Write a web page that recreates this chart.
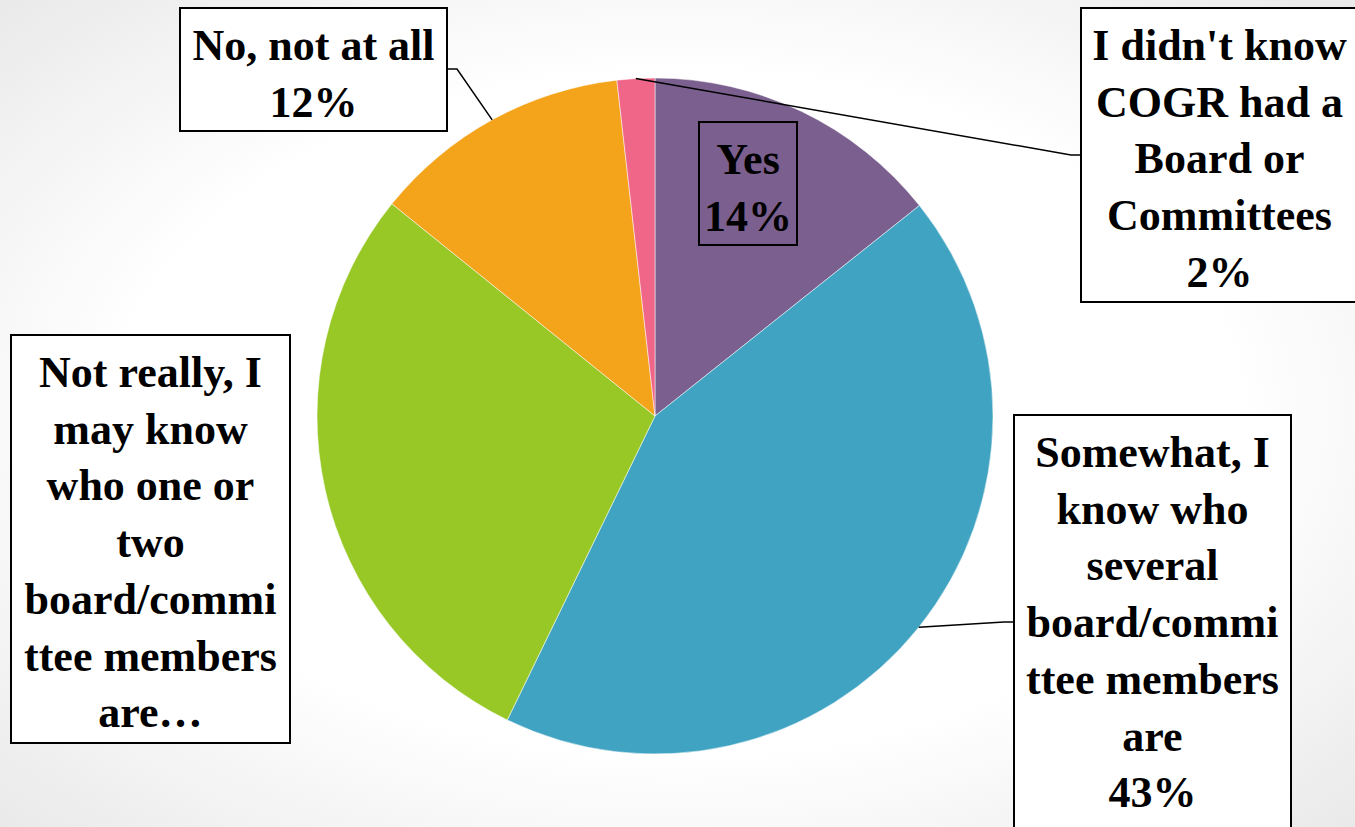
<!DOCTYPE html>
<html>
<head>
<meta charset="utf-8">
<script src="https://cdn.jsdelivr.net/npm/d3@7"></script>
<style>
  html, body { margin: 0; padding: 0; overflow: hidden; }
  body { width: 1355px; height: 827px; }
</style>
</head>
<body>
<div id="chart"></div>
<script>
// answers, clockwise from 12 o'clock
const categories = ['Yes', 'Somewhat', 'Not really', 'No', "Didn't know"]
const values = [14.3, 42.9, 28.6, 12.4, 1.8]
const colors = ['#7B5F8E', '#41A3C2', '#97C826', '#F4A41B', '#EF6688']
const labelLines = [
  ['Yes', '14%'],
  ['Somewhat, I', 'know who', 'several', 'board/commi', 'ttee members', 'are', '43%'],
  ['Not really, I', 'may know', 'who one or', 'two', 'board/commi', 'ttee members', 'are\u2026'],
  ['No, not at all', '12%'],
  ["I didn't know", 'COGR had a', 'Board or', 'Committees', '2%']
]

const width = 1355
const height = 827
const cx = 655
const cy = 416
const radius = 338
const lineH = 56.7

// label boxes: x, y, w, h, leader attach side, fill
const boxes = [
  { x: 699, y: 122, w: 98, h: 123, leader: null, fill: 'none' },
  { x: 1014, y: 415, w: 277, h: 430, leader: 'left', ly: 622, fill: '#fff' },
  { x: 11, y: 335, w: 279, h: 408, leader: null, fill: '#fff' },
  { x: 180, y: 8, w: 267, h: 123, leader: 'right', ly: 69, fill: '#fff' },
  { x: 1081, y: 8, w: 277, h: 294, leader: 'left', ly: 155, fill: '#fff' }
]

const svg = d3
  .select('#chart')
  .append('svg')
  .attr('width', width)
  .attr('height', height)

const defs = svg.append('defs')
const grad = defs
  .append('radialGradient')
  .attr('id', 'bg')
  .attr('cx', '50%')
  .attr('cy', '50%')
  .attr('r', '75%')
grad.append('stop').attr('offset', '0%').attr('stop-color', '#ffffff')
grad.append('stop').attr('offset', '55%').attr('stop-color', '#ffffff')
grad.append('stop').attr('offset', '100%').attr('stop-color', '#e6e6e6')

svg
  .append('rect')
  .attr('width', width)
  .attr('height', height)
  .attr('fill', 'url(#bg)')

const pie = d3
  .pie()
  .sort(null)
  .value(d => d)

const arcs = pie(values)

const arc = d3
  .arc()
  .innerRadius(0)
  .outerRadius(radius)

const g = svg.append('g').attr('transform', `translate(${cx},${cy})`)

g.selectAll('path')
  .data(arcs)
  .join('path')
  .attr('d', arc)
  .attr('fill', (d, i) => colors[i])
  .attr('stroke', '#fff')
  .attr('stroke-width', 0.5)

// leader lines from the slice edge to the label box
arcs.forEach((d, i) => {
  const b = boxes[i]
  if (!b.leader) return
  const mid = (d.startAngle + d.endAngle) / 2
  const px = cx + radius * Math.sin(mid)
  const py = cy - radius * Math.cos(mid)
  const bx = b.leader === 'left' ? b.x : b.x + b.w
  const kx = b.leader === 'left' ? bx - 10 : bx + 10
  svg
    .append('path')
    .attr('d', `M${px},${py}L${kx},${b.ly}L${bx},${b.ly}`)
    .attr('fill', 'none')
    .attr('stroke', '#000')
    .attr('stroke-width', 1.5)
})

const labels = svg
  .selectAll('.label')
  .data(categories)
  .join('g')
  .attr('class', 'label')

labels
  .append('rect')
  .attr('x', (d, i) => boxes[i].x)
  .attr('y', (d, i) => boxes[i].y)
  .attr('width', (d, i) => boxes[i].w)
  .attr('height', (d, i) => boxes[i].h)
  .attr('fill', (d, i) => boxes[i].fill)
  .attr('stroke', '#000')
  .attr('stroke-width', 2)

labels
  .append('text')
  .attr('text-anchor', 'middle')
  .style('font-family', '"Liberation Serif", serif')
  .style('font-weight', 'bold')
  .style('font-size', '44px')
  .attr('fill', '#000')
  .selectAll('tspan')
  .data((d, i) => labelLines[i].map(t => ({ t, i })))
  .join('tspan')
  .attr('x', d => boxes[d.i].x + boxes[d.i].w / 2)
  .attr('y', (d, j) => boxes[d.i].y + 52 + j * lineH)
  .text(d => d.t)
</script>
</body>
</html>
